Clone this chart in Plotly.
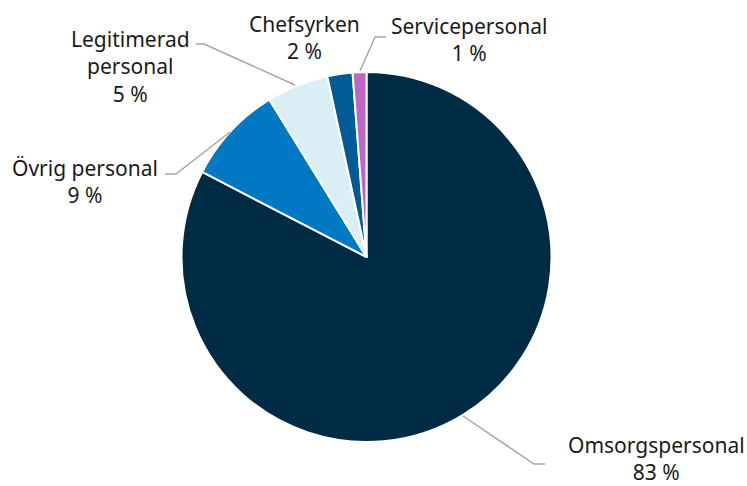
import plotly.graph_objects as go

labels = ["Omsorgspersonal", "Övrig personal", "Legitimerad personal", "Chefsyrken", "Servicepersonal"]
display_labels = ["Omsorgspersonal", "Övrig personal", "Legitimerad<br>personal", "Chefsyrken", "Servicepersonal"]
values = [82.6, 8.6, 5.4, 2.2, 1.2]
pct_text = ["83 %", "9 %", "5 %", "2 %", "1 %"]
colors = ["#002B45", "#0078C3", "#DAEEF6", "#005A94", "#BF66C2"]

W, H = 747, 486
cx, cy, r = 366.5, 257, 185

def px(x):
    return x / W

def py(y):
    return 1 - y / H

fig = go.Figure(go.Pie(
    labels=labels, values=values, sort=False, direction="clockwise", rotation=0,
    marker=dict(colors=colors, line=dict(color="white", width=2)),
    textinfo="none", hoverinfo="label+percent", showlegend=False,
    domain=dict(x=[px(cx - r), px(cx + r)], y=[py(cy + r), py(cy - r)]),
))

# label placement (pixel centres) and leader lines
label_pos = [(656, 458), (85, 181), (130, 67), (304, 37), (469, 40)]
leaders = [
    [(463, 416), (534, 464), (545, 464)],
    [(230, 132), (176, 174), (165, 174)],
    [(295, 85), (204, 44), (196, 44)],
    None,
    [(360, 71), (375, 37), (386, 37)],
]

annotations = []
shapes = []
for name, pct, (lx, ly), lead in zip(display_labels, pct_text, label_pos, leaders):
    annotations.append(dict(
        x=px(lx), y=py(ly), xref="paper", yref="paper", showarrow=False,
        text=f"{name}<br>{pct}", xanchor="center", yanchor="middle", align="center",
        borderpad=0,
        font=dict(family="Noto Sans", size=21, color="#1a1a1a"),
    ))
    if lead:
        path = "M " + " L ".join(f"{px(x)},{py(y)}" for x, y in lead)
        shapes.append(dict(type="path", xref="paper", yref="paper", path=path,
                           line=dict(color="#A6A6A6", width=1.5)))

fig.update_layout(
    width=W, height=H, margin=dict(l=0, r=0, t=0, b=0),
    paper_bgcolor="white", plot_bgcolor="white",
    annotations=annotations, shapes=shapes,
)
fig.write_html("out.html", config={"displayModeBar": False},
               post_script="document.body.style.margin='0';document.body.style.overflow='hidden';")
